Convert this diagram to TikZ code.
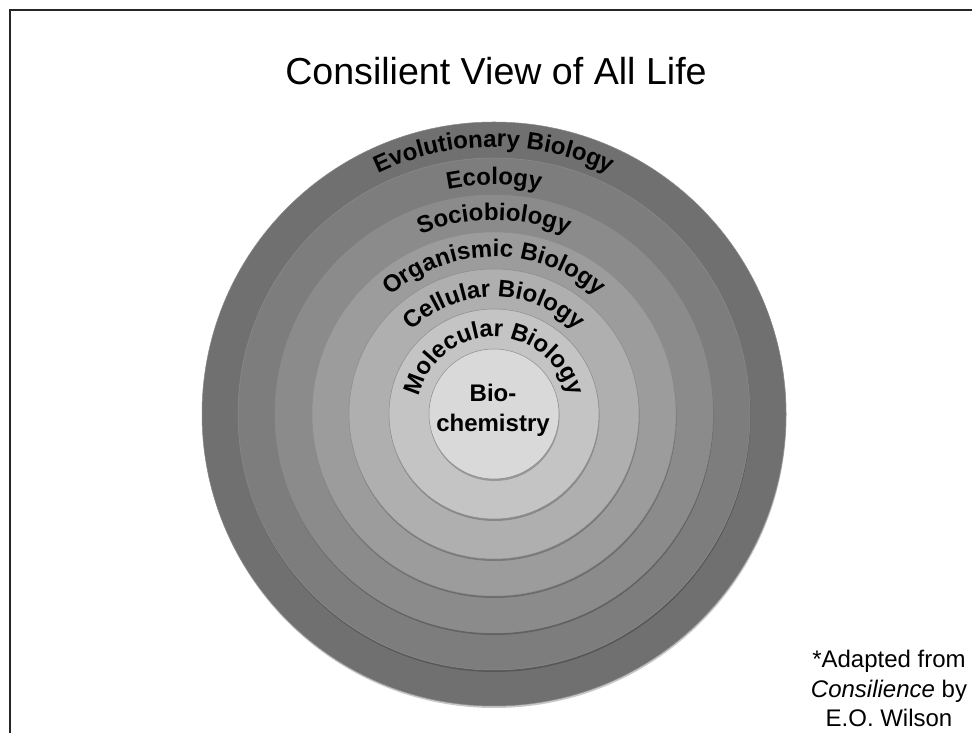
\documentclass[tikz,border=0pt]{standalone}
\usepackage{fontspec}
\setmainfont{Liberation Sans}
\usetikzlibrary{decorations.text}
\definecolor{ringA}{HTML}{707070}
\definecolor{ringB}{HTML}{7D7D7D}
\definecolor{ringC}{HTML}{8B8B8B}
\definecolor{ringD}{HTML}{9C9C9C}
\definecolor{ringE}{HTML}{AFAFAF}
\definecolor{ringF}{HTML}{C4C4C4}
\definecolor{ringG}{HTML}{D9D9D9}
\newcommand\ringfont{\fontsize{24}{28}\selectfont\bfseries}
\tikzset{
  disc/.style={fill=#1, draw=black!45, line width=0.5pt},
  discshadow/.style={fill=black, opacity=0.22},
  ringlabel/.style={decorate, decoration={text along path, text align=center, text={|\ringfont|#1}}},
  footnote/.style={font=\fontsize{24}{29}\selectfont, anchor=base},
}
\begin{document}
\begin{tikzpicture}[x=1pt,y=1pt]
\useasboundingbox (0,0) rectangle (972,733);
\fill[white] (0,0) rectangle (972,733);
\draw[line width=2pt, black!85] (10,0) -- (10,723) -- (972,723);

\coordinate (C) at (494,319);

% discs, outermost first
\foreach \r/\c in {292/ringA,256/ringB,219/ringC,182/ringD,145/ringE,105/ringF,65/ringG}{
  \fill[discshadow] ([shift={(0.5pt,-2pt)}]C) circle[radius=\r pt];
  \fill[disc=\c] (C) circle[radius=\r pt];
}

% curved labels
\path[ringlabel={Evolutionary Biology}] (C) ++(180:267pt) arc[start angle=180, end angle=0, radius=267pt];
\path[ringlabel={Ecology}] (C) ++(180:229pt) arc[start angle=180, end angle=0, radius=229pt];
\path[ringlabel={Sociobiology}] (C) ++(180:194pt) arc[start angle=180, end angle=0, radius=194pt];
\path[ringlabel={Organismic Biology}] (C) ++(180:157pt) arc[start angle=180, end angle=0, radius=157pt];
\path[ringlabel={Cellular Biology}] (C) ++(180:117pt) arc[start angle=180, end angle=0, radius=117pt];
\path[ringlabel={Molecular Biology}] (C) ++(180:77pt) arc[start angle=180, end angle=0, radius=77pt];

\node[anchor=base, font=\ringfont] (bio) at (493,331) {Bio-};
\node[anchor=base, font=\ringfont] (chem) at (493,301) {chemistry};

\node[anchor=base, font=\fontsize{37.6}{44}\selectfont] (title) at (496,648) {Consilient View of All Life};

\node[footnote] (fn1) at (889,65) {*Adapted from};
\node[footnote] (fn2) at (889,35) {\textit{Consilience} by};
\node[footnote] (fn3) at (889,6) {E.O. Wilson};
\end{tikzpicture}
\end{document}
